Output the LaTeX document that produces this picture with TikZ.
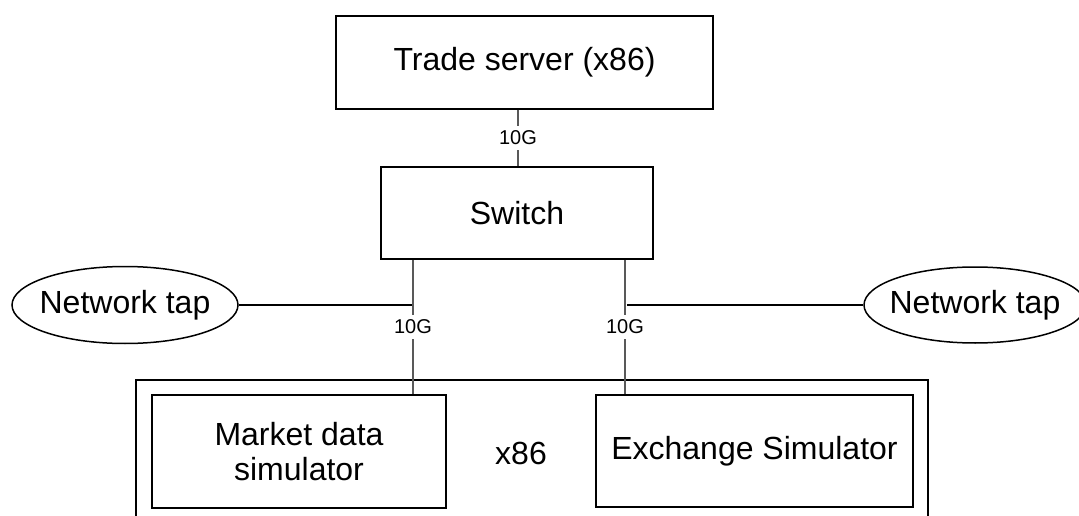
\documentclass[tikz,border=0pt]{standalone}
\usepackage{fontspec}
\setmainfont{Liberation Sans}
\usetikzlibrary{shapes.geometric}
\begin{document}
\begin{tikzpicture}[x=1pt,y=-1pt,
  box/.style={draw=black,line width=1.5pt,inner sep=0pt,align=center,
    font=\fontsize{32}{35}\selectfont},
  tap/.style={draw=black,line width=1.5pt,ellipse,inner sep=0pt,
    font=\fontsize{32}{35}\selectfont},
  link/.style={draw=black!65,line width=1.1pt},
  taplink/.style={draw=black,line width=1.1pt},
  speed/.style={fill=white,inner xsep=2pt,inner ysep=5pt,
    font=\fontsize{20}{22}\selectfont}
]
\useasboundingbox (0,0) rectangle (1079,516);
% host frame
\node[draw=black,line width=1.8pt,minimum width=792pt,minimum height=170pt,inner sep=0pt]
  (host) at (532,465) {};
\node[box,minimum width=377pt,minimum height=93pt] (trade) at (524.5,62.5) {Trade server (x86)};
\node[box,minimum width=272pt,minimum height=92pt] (switch) at (517,213) {Switch};
\node[box,minimum width=294pt,minimum height=113pt] (market) at (299,451.5) {Market data\\simulator};
\node[box,minimum width=317pt,minimum height=112pt] (exch) at (754.5,451) {Exchange Simulator};
\node[font=\fontsize{32}{35}\selectfont] (x86) at (521,453) {x86};
\node[tap,minimum width=226pt,minimum height=77pt] (tapL) at (125,305) {\makebox[0pt]{Network tap}};
\node[tap,minimum width=222pt,minimum height=76pt] (tapR) at (975,305) {\makebox[0pt]{Network tap}};
\coordinate (ts) at (518,0);
\coordinate (pL) at (413,305);
\coordinate (pR) at (625,305);
% links
\draw[link] (trade.south -| ts) -- node[speed] (s0) {10G} (switch.north -| ts);
\draw[link] (switch.south -| pL) -- node[speed] (s1) {10G} (market.north -| pL);
\draw[link] (switch.south -| pR) -- node[speed] (s2) {10G} (exch.north -| pR);
\draw[taplink] (tapL.east) -- ([xshift=-1pt]pL);
\draw[taplink] (tapR.west) -- ([xshift=2pt]pR);
\end{tikzpicture}
\end{document}
